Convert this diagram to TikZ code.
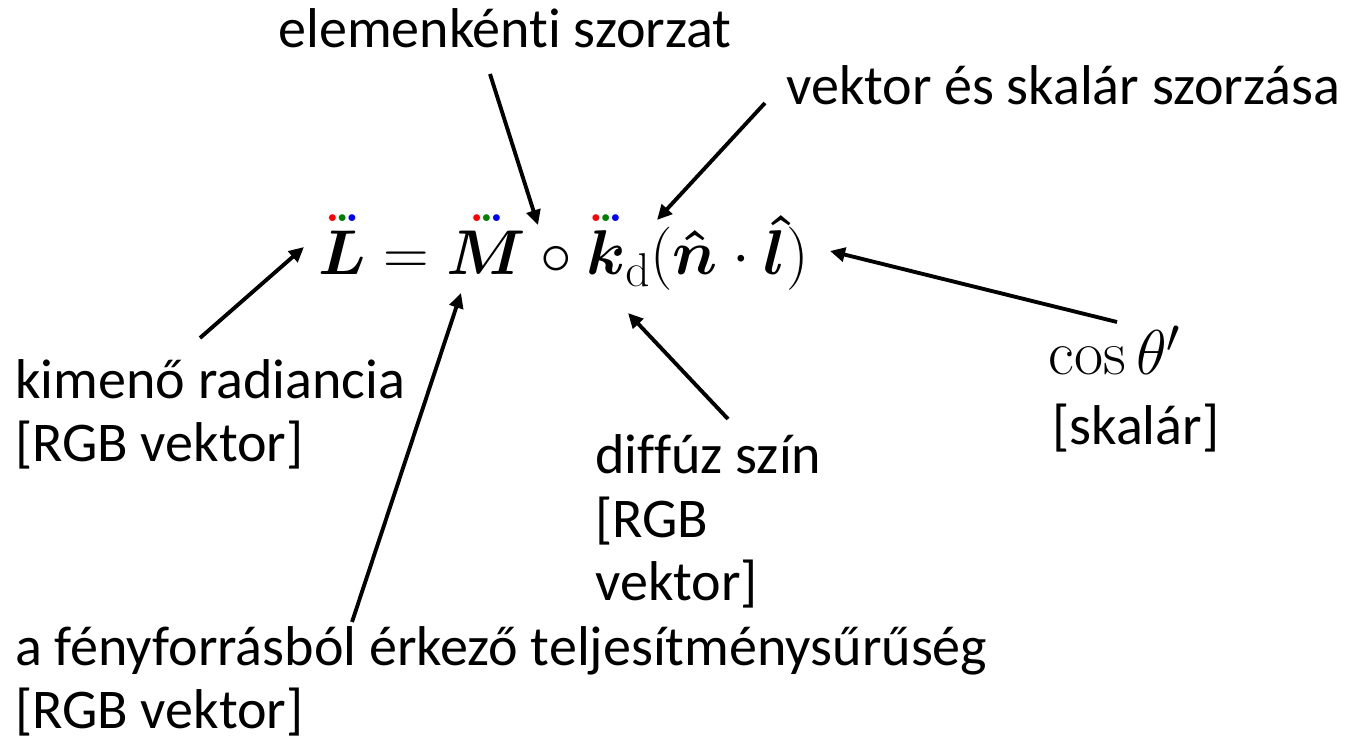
\documentclass[tikz,border=0pt]{standalone}
\usepackage{fix-cm}
\usepackage{amsmath,bm}
\usepackage[no-math]{fontspec}
\setmainfont{Carlito}[Ligatures=NoCommon]
\usetikzlibrary{arrows.meta}
\DeclareMathSizes{36}{36}{27}{20}
\definecolor{dotred}{RGB}{255,0,0}
\definecolor{dotgreen}{RGB}{0,128,0}
\definecolor{dotblue}{RGB}{0,0,255}
\newcommand{\rgbdots}{\mbox{\fontsize{10}{10}\selectfont$\textcolor{dotred}{\bullet}\kern0.6pt\textcolor{dotgreen}{\bullet}\kern0.6pt\textcolor{dotblue}{\bullet}$}}
\newcommand{\rgbvec}[1]{\overset{\rgbdots}{#1}}

\begin{document}
\begin{tikzpicture}[x=1cm,y=1cm]
\tikzset{
  labeltext/.style={anchor=base west,inner sep=0pt,align=left,font=\fontsize{31.9}{36.3}\selectfont},
  mathtext/.style={anchor=base west,inner sep=0pt,font=\fontsize{36}{43}\selectfont},
  pointer/.style={draw=black,line width=2.2pt,-{Triangle[length=3mm,width=2.8mm]}}
}
\useasboundingbox (0,0) rectangle (26.92,-14.82);
% formula
\node[mathtext] (n_eq) at (6.36,-5.50) {$\rgbvec{\bm{L}} = \rgbvec{\bm{M}} \circ \rgbvec{\bm{k}}_{\mathrm{d}}(\bm{\hat{n}} \cdot \bm{\hat{l}})$};
% labels (base = last line)
\node[labeltext] (n_elem) at (5.56,-0.96) {elemenkénti szorzat};
\node[labeltext] (n_vekt) at (15.72,-2.10) {vektor és skalár szorzása};
\node[labeltext] (n_kim) at (0.30,-9.24) {kimenő radiancia\\{}[RGB vektor]};
\node[labeltext] (n_diff) at (11.90,-12.02) {diffúz szín\\{}[RGB\\vektor]};
\node[labeltext] (n_feny) at (0.30,-14.58) {a fényforrásból érkező teljesítménysűrűség\\{}[RGB vektor]};
\node[mathtext] (n_cos) at (20.96,-7.50) {$\cos\theta'$};
\node[labeltext] (n_skal) at (21.04,-8.90) {[skalár]};
% arrow ends
\coordinate (t_elem) at (9.80,-1.48);
\coordinate (h_elem) at (10.76,-4.50);
\coordinate (t_vekt) at (15.30,-2.06);
\coordinate (h_vekt) at (13.14,-4.40);
\coordinate (t_cos) at (22.34,-6.44);
\coordinate (h_cos) at (16.60,-5.02);
\coordinate (t_diff) at (14.56,-8.38);
\coordinate (h_diff) at (12.56,-6.26);
\coordinate (t_kim) at (4.00,-6.76);
\coordinate (h_kim) at (6.08,-4.94);
\coordinate (t_feny) at (7.04,-12.44);
\coordinate (h_feny) at (9.22,-5.86);
\draw[pointer] (t_elem) -- (h_elem);
\draw[pointer] (t_vekt) -- (h_vekt);
\draw[pointer] (t_cos) -- (h_cos);
\draw[pointer] (t_diff) -- (h_diff);
\draw[pointer] (t_kim) -- (h_kim);
\draw[pointer] (t_feny) -- (h_feny);
\end{tikzpicture}
\end{document}
